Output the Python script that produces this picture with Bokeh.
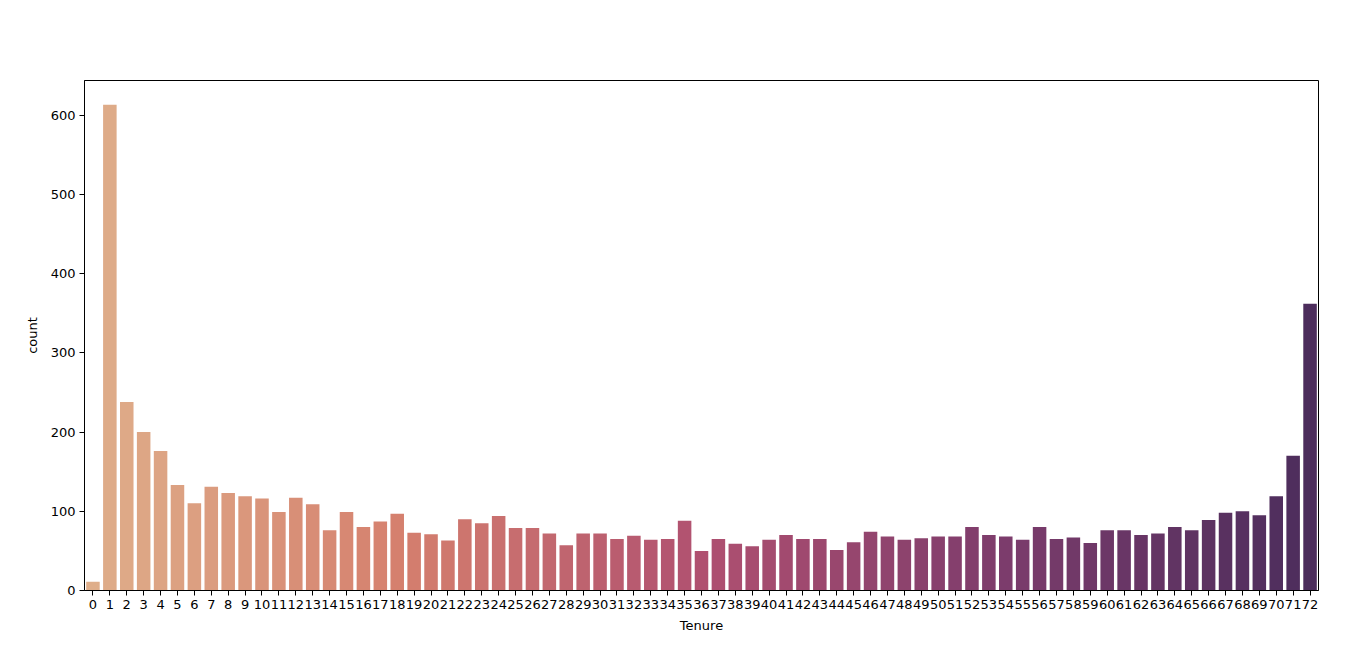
import numpy as np
from bokeh.plotting import figure
from bokeh.models import Range1d, FixedTicker, ColumnDataSource
from bokeh.embed import file_html
from bokeh.resources import INLINE

tenure = list(range(0, 73))
counts = [11, 613, 238, 200, 176, 133, 110, 131, 123, 119, 116, 99, 117, 109, 76, 99,
          80, 87, 97, 73, 71, 63, 90, 85, 94, 79, 79, 72, 57, 72, 72, 65, 69, 64, 65,
          88, 50, 65, 59, 56, 64, 70, 65, 65, 51, 61, 74, 68, 64, 66, 68, 68, 80, 70,
          68, 64, 80, 65, 67, 60, 76, 76, 70, 72, 80, 76, 89, 98, 100, 95, 119, 170, 362]
tick_labels = [str(t) for t in tenure]

# palette anchors (flare, desaturated)
anchor_pos = [0.0, 0.25, 0.5, 0.75, 1.0]
anchor_rgb = [(0xdf, 0xae, 0x8a), (0xd5, 0x80, 0x6e), (0xb0, 0x50, 0x70),
              (0x7c, 0x3c, 0x6c), (0x4c, 0x2d, 0x5c)]
n = len(tenure)
colors = []
for i in range(n):
    t = i / (n - 1)
    rgb = [int(round(np.interp(t, anchor_pos, [c[k] for c in anchor_rgb]))) for k in range(3)]
    colors.append("#%02x%02x%02x" % tuple(rgb))

src = ColumnDataSource(dict(x=tenure, top=counts, color=colors))

W, H = 1344, 647
p = figure(width=W, height=H, output_backend="svg", toolbar_location=None,
           x_range=Range1d(-0.5, 72.5), y_range=Range1d(0, max(counts) * 1.05),
           min_border_left=84, min_border_right=26, min_border_top=80, min_border_bottom=57)
p.vbar(x="x", top="top", width=0.8, fill_color="color", line_color=None, source=src)

p.xgrid.visible = False
p.ygrid.visible = False
p.outline_line_color = "black"
p.outline_line_width = 1
p.outline_line_alpha = 1

p.xaxis.ticker = FixedTicker(ticks=tenure)
p.xaxis.major_label_overrides = {t: l for t, l in zip(tenure, tick_labels)}
p.yaxis.ticker = FixedTicker(ticks=[0, 100, 200, 300, 400, 500, 600])
p.xaxis.axis_label = "Tenure"
p.yaxis.axis_label = "count"
for ax in (p.xaxis[0], p.yaxis[0]):
    ax.axis_label_text_font = "DejaVu Sans"
    ax.axis_label_text_font_style = "normal"
    ax.axis_label_text_font_size = "13px"
    ax.axis_label_text_color = "black"
    ax.major_label_text_font = "DejaVu Sans"
    ax.major_label_text_font_size = "13px"
    ax.major_label_text_color = "black"
    ax.minor_tick_line_color = None
    ax.major_tick_out = 5
    ax.major_tick_in = 0
    ax.major_tick_line_color = "black"
    ax.axis_line_color = "black"
    ax.major_label_standoff = 4
p.xaxis.axis_label_standoff = 6
p.yaxis.axis_label_standoff = 8

open("out.html", "w").write(file_html(p, INLINE))
